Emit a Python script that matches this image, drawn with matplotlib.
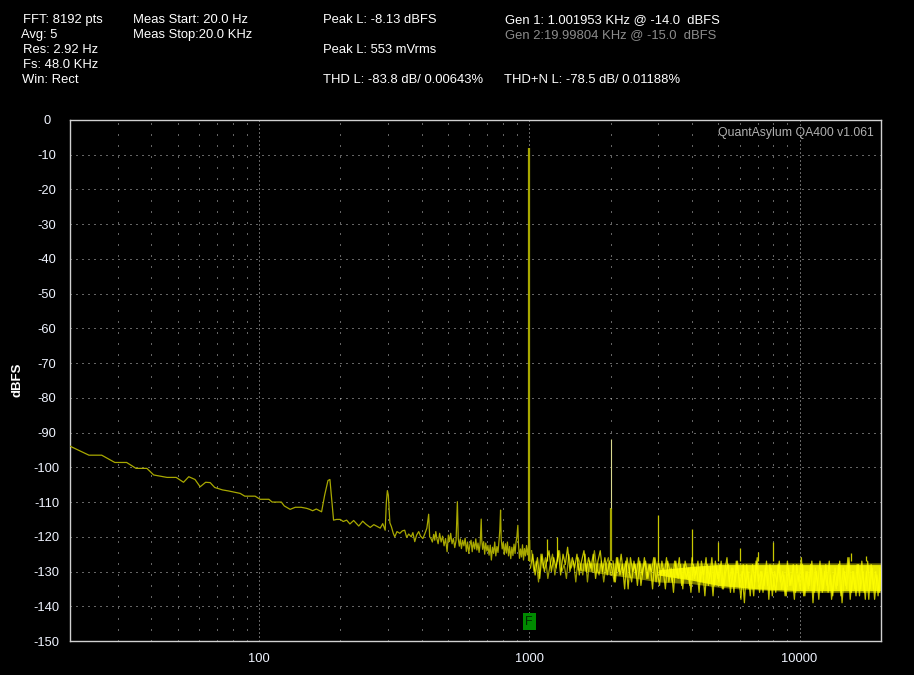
import matplotlib
matplotlib.use("Agg")
import matplotlib.pyplot as plt
import numpy as np

# ---------------- data ----------------
header_left = ["FFT: 8192 pts", "Avg: 5", "Res: 2.92 Hz", "Fs: 48.0 KHz", "Win: Rect"]
header_meas = ["Meas Start: 20.0 Hz", "Meas Stop:20.0 KHz"]
peak_db_text = "Peak L: -8.13 dBFS"
peak_v_text = "Peak L: 553 mVrms"
thd_text = "THD L: -83.8 dB/ 0.00643%"
thdn_text = "THD+N L: -78.5 dB/ 0.01188%"
gen1_text = "Gen 1: 1.001953 KHz @ -14.0  dBFS"
gen2_text = "Gen 2:19.99804 KHz @ -15.0  dBFS"
brand_text = "QuantAsylum QA400 v1.061"
y_label = "dBFS"

x_ticks = [100, 1000, 10000]
x_tick_labels = ["100", "1000", "10000"]
y_ticks = [0, -10, -20, -30, -40, -50, -60, -70, -80, -90, -100, -110, -120, -130, -140, -150]

# low / mid frequency trace (Hz, dBFS)
lf_freq = [20, 23.5, 26.2, 29.3, 32.4, 35.1, 38.5, 40.8, 45.7, 49.4,
           52.6, 55.0, 58.0, 60.6, 63.5, 66.0, 68.6, 73.3, 77.2, 85.2,
           88.6, 96.8, 101, 108.8, 111.9, 121.0, 124.0, 130.4, 136.3, 143.2,
           150, 154, 158, 163, 170.5, 175, 180, 183, 188.8, 193.7,
           199.9, 205, 211, 217, 224, 234, 242, 249, 258, 266,
           281, 287, 293, 296, 298.6, 301, 305, 309, 314, 318,
           324, 332, 339, 346, 352, 358, 366, 371, 377, 383,
           390, 396, 404, 410, 418, 424.4, 428, 433, 438, 443,
           447, 451, 455, 460, 466, 472, 478, 484, 490, 496.5,
           502, 507, 512, 518, 524, 530, 536, 542, 546, 551,
           556, 561, 567, 573, 579, 585, 591, 597, 603, 609,
           615, 621, 628, 634, 640, 646, 652, 658, 662, 664,
           667, 672, 678, 684, 690, 697, 703, 710, 717, 724,
           731, 738, 745, 752, 759, 766, 773, 778, 783, 787,
           794, 801, 808, 816, 823, 830, 838, 846, 854, 862,
           870, 878, 886, 893, 900, 907, 912, 920, 928, 936,
           944, 952, 960, 968, 977, 985, 993, 997, 1003, 1006]
lf_level = [-93.9, -96.5, -96.5, -98.6, -98.6, -100.3, -100.3, -102.2, -102.9, -102.9,
            -104.3, -102.7, -103.5, -105.6, -104.3, -104.4, -105.8, -106.5, -106.8, -107.5,
            -108.3, -108.3, -109.2, -109.2, -110.0, -110.0, -111.1, -112.1, -111.5, -111.5,
            -111.8, -112.1, -112.5, -112.0, -112.8, -108.0, -103.8, -103.5, -115.2, -115.0,
            -115.0, -115.6, -115.2, -116.3, -115.3, -116.9, -115.5, -116.4, -117.3, -116.5,
            -117.5, -116.2, -118.1, -110.0, -106.7, -108.0, -116.0, -117.1, -119.0, -120.0,
            -118.5, -119.0, -118.3, -118.1, -120.2, -119.2, -120.0, -118.8, -121.4, -119.5,
            -118.5, -119.8, -120.5, -119.3, -117.5, -113.5, -120.0, -120.5, -121.5, -119.3,
            -121.0, -118.5, -120.5, -122.0, -119.0, -121.5, -119.8, -122.6, -120.5, -124.3,
            -119.5, -121.4, -119.0, -122.0, -120.5, -123.1, -121.0, -109.9, -120.5, -122.7,
            -120.6, -123.4, -121.0, -122.6, -120.4, -124.2, -121.5, -124.8, -122.3, -121.0,
            -124.3, -121.5, -123.5, -120.6, -123.8, -121.8, -124.5, -122.0, -117.0, -114.9,
            -121.0, -123.6, -121.4, -125.0, -121.8, -124.1, -122.5, -125.3, -122.4, -126.7,
            -123.0, -124.8, -121.5, -125.5, -122.8, -124.5, -121.0, -118.0, -112.3, -120.5,
            -123.5, -121.6, -125.1, -122.0, -124.7, -121.5, -125.5, -122.8, -126.3, -123.0,
            -125.4, -122.1, -124.8, -121.5, -120.0, -116.7, -122.0, -126.2, -123.5, -125.8,
            -122.3, -126.7, -123.4, -125.5, -122.5, -125.2, -123.0, -121.0, -121.0, -127.0]

# high frequency noise trace (Hz, dBFS)
hf_freq = [1010, 1030, 1051, 1072, 1093, 1115, 1137, 1160, 1183, 1207,
           1231, 1256, 1281, 1306, 1333, 1359, 1386, 1414, 1443, 1471,
           1501, 1531, 1561, 1593, 1625, 1657, 1690, 1724, 1759, 1794,
           1830, 1866, 1904, 1942, 1981, 2020, 2061, 2102, 2144, 2187,
           2231, 2275, 2321, 2367, 2415, 2463, 2512, 2563, 2614, 2666,
           2720, 2774, 2830, 2886, 2944, 3003, 3063, 3124, 3187, 3250,
           3315, 3382, 3449, 3518, 3589, 3661, 3734, 3809, 3885, 3962,
           4042, 4122, 4205, 4289, 4375, 4462, 4552, 4643, 4736, 4830,
           4927, 5025, 5126, 5228, 5333, 5440, 5548, 5659, 5773, 5888,
           6006, 6126, 6248, 6373, 6501, 6631, 6763, 6899, 7037, 7177,
           7321, 7467, 7617, 7769, 7924, 8083, 8244, 8409, 8577, 8749,
           8924, 9102, 9284, 9470, 9660, 9853, 10050, 10251, 10456, 10665,
           10878, 11096, 11318, 11544, 11775, 12011, 12251, 12496, 12746, 13001,
           13261, 13526, 13797, 14073, 14354, 14641, 14934, 15233, 15537, 15848,
           16165, 16488, 16818, 17155, 17498, 17848, 18205, 18569, 18940, 19319,
           19705, 20000]
hf_level = [-129, -125, -131, -126, -132, -125, -130, -127, -124, -130,
            -126, -129, -124, -131, -125, -128, -123, -130, -126, -129,
            -125, -131, -127, -124, -130, -126, -129, -125, -132, -127,
            -124, -130, -126, -131, -127, -129, -133, -126, -130, -125,
            -131, -127, -135, -126, -130, -128, -134, -127, -131, -126,
            -132, -128, -130, -126, -133, -127, -131, -129, -135, -127,
            -130, -133, -127, -131, -126, -134, -128, -132, -129, -136,
            -128, -131, -127, -133, -129, -137, -128, -132, -126, -134,
            -129, -133, -127, -135, -130, -128, -136, -129, -133, -127,
            -134, -130, -139, -128, -135, -131, -137, -127, -133, -130,
            -136, -129, -134, -128, -137, -130, -133, -127, -135, -131,
            -137, -129, -134, -128, -136, -131, -135, -128, -137, -130,
            -134, -127, -136, -130, -138, -129, -135, -128, -136, -131,
            -137, -129, -134, -127, -139, -130, -135, -126, -136, -130,
            -137, -128, -135, -130, -138, -127, -135, -129, -138, -131,
            -136, -130]

# interleaved noise trace 1-2 kHz (Hz, dBFS)
mf_freq = [1020, 1040, 1061, 1082, 1104, 1126, 1148, 1171, 1195, 1219,
           1243, 1268, 1293, 1319, 1346, 1372, 1400, 1428, 1457, 1486,
           1516, 1546, 1577, 1609, 1641, 1673, 1707, 1741, 1776, 1812,
           1848, 1885, 1923, 1961, 2000]
mf_level = [-124, -130, -127, -133, -125, -129, -126, -132, -128, -125,
            -131, -127, -124, -130, -128, -132, -125, -129, -127, -133,
            -126, -128, -131, -125, -133, -127, -130, -124, -129, -131,
            -127, -133, -128, -126, -131]

# second, interleaved noise trace above 2 kHz (Hz, dBFS)
hf2_freq = [2040, 2081, 2123, 2165, 2209, 2253, 2298, 2344, 2391, 2439,
            2487, 2537, 2588, 2640, 2693, 2747, 2802, 2858, 2915, 2973,
            3033, 3093, 3155, 3218, 3282, 3348, 3415, 3483, 3553, 3625,
            3697, 3771, 3847, 3923, 4002, 4082, 4163, 4247, 4332, 4418,
            4507, 4597, 4689, 4783, 4878, 4976, 5075, 5177, 5280, 5386,
            5494, 5603, 5716, 5830, 5947, 6066, 6187, 6310, 6437, 6566,
            6697, 6831, 6968, 7107, 7249, 7394, 7542, 7693, 7846, 8003,
            8163, 8326, 8493, 8663, 8836, 9013, 9193, 9377, 9565, 9756,
            9951, 10150, 10353, 10560, 10771, 10987, 11207, 11431, 11659, 11893,
            12131, 12373, 12621, 12873, 13131, 13393, 13661, 13935, 14213, 14497,
            14787, 15083, 15385, 15692, 16006, 16326, 16653, 16986, 17326, 17672,
            18026, 18386, 18754, 19129, 19512, 19852]
hf2_level = [-127, -133, -126, -131, -128, -135, -126, -130, -133, -127,
             -131, -126, -134, -129, -127, -132, -128, -135, -126, -130,
             -134, -127, -131, -126, -133, -129, -136, -127, -132, -128,
             -135, -127, -130, -134, -126, -132, -129, -136, -127, -131,
             -126, -134, -129, -137, -127, -132, -128, -135, -130, -126,
             -133, -129, -136, -127, -131, -138, -128, -134, -130, -137,
             -128, -133, -126, -136, -130, -134, -127, -138, -129, -132,
             -136, -128, -133, -130, -137, -127, -134, -131, -138, -128,
             -133, -126, -137, -130, -135, -128, -139, -129, -134, -127,
             -136, -130, -134, -127, -138, -131, -135, -128, -137, -129,
             -134, -126, -138, -130, -135, -128, -137, -127, -136, -130,
             -138, -128, -135, -130, -137, -129]

# noise band envelope (Hz, dBFS)
band_freq = [1500, 2000, 2500, 3000, 4000, 5000, 6000, 8000, 10000, 12000, 15000, 18000, 20000]
band_top = [-127.5, -127.5, -127.5, -127.5, -127.5, -127.5, -127.5, -127.5, -127.5, -127.5, -127.5, -127.5, -127.5]
band_bot = [-129.5, -131, -132, -133, -133.5, -134.5, -135, -135.5, -136, -136, -136, -136, -136]

# bright core of the band
core_freq = [3000, 4000, 5000, 7000, 10000, 14000, 20000]
core_top = [-129.5, -128.5, -128, -128, -128, -128, -128]
core_bot = [-131, -132.5, -134, -135, -135.5, -135.5, -135.5]

# discrete spectral lines (Hz, peak dBFS)
fund_freq = [1000]
fund_peak = [-8.13]
harm_freq = [1160, 1270, 3000, 4000, 5000, 6000, 7000, 8000, 15500, 17600]
harm_peak = [-120.6, -120.0, -113.7, -117.8, -121.4, -123.1, -124.3, -121.4, -124.7, -125.6]
h2_freq = [2000]
h2_base = [-111.7]
h2_peak = [-91.9]

# ---------------- figure ----------------
W, H = 914, 675
fig = plt.figure(figsize=(W / 100, H / 100), dpi=100, facecolor="black")
L, R, T, B = 70, 881, 120, 641
ax = fig.add_axes([L / W, 1 - B / H, (R - L) / W, (B - T) / H], facecolor="black")
ax.set_xscale("log")
ax.set_xlim(20, 20000)
ax.set_ylim(-150, 0)

grid_col = "#c8c8c8"
lw1 = 0.72
for yv in y_ticks[1:-1]:
    ax.axhline(yv, color=grid_col, lw=lw1, ls=(0, (1, 5)), zorder=1)
for xv in x_ticks:
    ax.axvline(xv, color=grid_col, lw=lw1, ls=(0, (1, 3)), zorder=1)
minor = [m * d for d in (10, 100, 1000) for m in range(2, 10) if 20 < m * d < 20000]
for xv in minor:
    ax.axvline(xv, color=grid_col, lw=lw1, ls=(0, (1, 10)), zorder=1)

yel = "#ffff00"
olive = "#a8a800"
# noise band
ax.fill_between(band_freq, band_bot, band_top, color=yel, alpha=0.45, lw=0, zorder=2)
ax.fill_between(core_freq, core_bot, core_top, color=yel, alpha=0.85, lw=0, zorder=2)
# spectral lines
ax.vlines(fund_freq, -127, fund_peak, color=olive, lw=1.6, zorder=3)
ax.vlines(h2_freq, -127, h2_base, color=olive, lw=1.6, zorder=3)
ax.vlines(h2_freq, h2_base, h2_peak, color="#d8d890", lw=0.8, zorder=3)
ax.vlines(harm_freq, -127, harm_peak, color="#c8c800", lw=0.9, zorder=3)
# traces
ax.plot(lf_freq, lf_level, color=olive, lw=0.9, zorder=4)
ax.plot(mf_freq, mf_level, color=yel, lw=0.9, alpha=0.6, zorder=4)
ax.plot(hf_freq, hf_level, color=yel, lw=0.9, alpha=0.75, zorder=4)
ax.plot(hf2_freq, hf2_level, color=yel, lw=0.9, alpha=0.75, zorder=4)

for s in ax.spines.values():
    s.set_color("#d0d0d0")
    s.set_linewidth(1.0)

ax.set_xticks(x_ticks)
ax.set_xticklabels(x_tick_labels)
ax.xaxis.set_minor_locator(matplotlib.ticker.NullLocator())
ax.set_yticks(y_ticks)
ax.set_yticklabels([str(v) for v in y_ticks])
ax.tick_params(axis="both", length=0, colors="#f0f4ff", labelsize=9.3,
               labelfontfamily="Liberation Sans")
ax.tick_params(axis="x", pad=9)
ax.tick_params(axis="y", pad=16.8)
for lab in ax.get_yticklabels():
    lab.set_horizontalalignment("center")

# F marker
ax.text(1000, -144.5, "F", ha="center", va="center", fontsize=9, color="#002a00",
        family="Liberation Sans",
        bbox=dict(boxstyle="square,pad=0.2", fc="#008a00", ec="none"), zorder=5)

# brand text
fig.text(874 / W, 1 - 132.7 / H, brand_text, ha="right", va="center", fontsize=8.8,
         color="#b0b0b0", family="Liberation Sans")

# y label
fig.text(17.3 / W, 1 - 380 / H, y_label, rotation=90, ha="center", va="center",
         fontsize=9.5, fontweight="bold", color="white", family="Liberation Sans")

# header
fs_h = 9.4
def htext(x, y, s, col="white"):
    fig.text(x / W, 1 - y / H, s, ha="left", va="baseline", fontsize=fs_h,
             color=col, family="Liberation Sans")

left_x = [23.3, 21.0, 23.3, 23.3, 22.3]
for i, s in enumerate(header_left):
    htext(left_x[i], 22.7 + 15 * i, s)
for i, s in enumerate(header_meas):
    htext(133.3, 22.7 + 15 * i, s)
htext(323.3, 22.7, peak_db_text)
htext(323.3, 52.7, peak_v_text)
htext(323.3, 82.7, thd_text)
htext(505, 22.7, gen1_text)
htext(505, 37.7, gen2_text, col="#8c8c8c")
htext(504.3, 82.7, thdn_text)

fig.savefig("out.png", dpi=100, facecolor="black")
